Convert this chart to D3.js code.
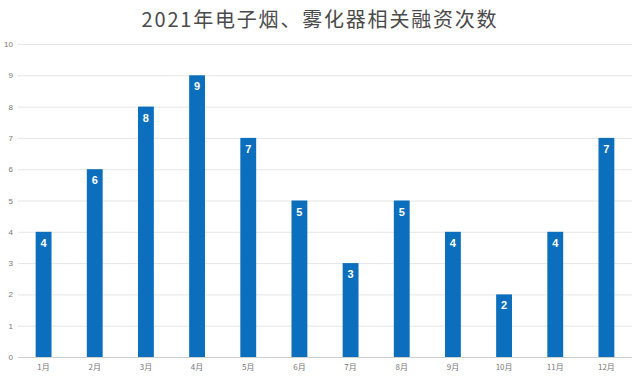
<!DOCTYPE html>
<html><head><meta charset="utf-8">
<script src="https://cdn.jsdelivr.net/npm/d3@7"></script>
<style>body{margin:0;background:#fff}svg{display:block}</style>
</head><body>
<svg id="c" width="640" height="378"></svg>
<script>
const title = "2021年电子烟、雾化器相关融资次数";
const months = ["1月","2月","3月","4月","5月","6月","7月","8月","9月","10月","11月","12月"];
const counts = [4,6,8,9,7,5,3,5,4,2,4,7];
const yTicks = [0,1,2,3,4,5,6,7,8,9,10];

const svg = d3.select("#c");
const font = "'Noto Sans CJK SC','Noto Sans',sans-serif";
const mLeft = 18, mRight = 632, mTop = 44, mBottom = 357;

const x = d3.scaleBand().domain(months).range([mLeft, mRight]).paddingInner(0.69).paddingOuter(0.345);
const y = d3.scaleLinear().domain([0,10]).range([mBottom, mTop]);

svg.append("text").attr("x", 320).attr("y", 27).attr("text-anchor","middle")
  .attr("font-family", font).attr("font-size", 20).attr("letter-spacing", 1.8)
  .attr("fill","#4a4a4a").text(title);

// grid
const g = svg.append("g").attr("transform", `translate(${mLeft},0)`);
const yAxis = d3.axisLeft(y).tickValues(yTicks).tickSize(-(mRight-mLeft)).tickFormat(d3.format("d")).tickPadding(6);
g.call(yAxis);
g.select(".domain").remove();
g.selectAll(".tick line").attr("stroke","#e6e6e6").attr("stroke-width",1);
g.selectAll(".tick text").attr("font-family", "'Liberation Sans',Arial,sans-serif").attr("font-size",8).attr("fill","#777").attr("x",-5);
g.selectAll(".tick").filter(d => d === 0).select("line").attr("stroke","#d0d0d0");

// bars
svg.append("g").selectAll("rect").data(counts).join("rect")
  .attr("x", (d,i) => x(months[i])).attr("width", x.bandwidth())
  .attr("y", d => y(d)).attr("height", d => y(0) - y(d))
  .attr("fill", "#0b6fbe");

svg.append("g").selectAll("text").data(counts).join("text")
  .attr("x", (d,i) => x(months[i]) + x.bandwidth()/2).attr("y", d => y(d) + 15)
  .attr("text-anchor","middle").attr("font-family","'Liberation Sans',Arial,sans-serif")
  .attr("font-weight","bold").attr("font-size",11).attr("fill","#fff").text(d => d);

// x axis
const xa = svg.append("g").attr("transform", `translate(0,${mBottom})`)
  .call(d3.axisBottom(x).tickSize(0).tickPadding(7));
xa.select(".domain").remove();
xa.selectAll(".tick text").attr("font-family", font).attr("font-size",8).attr("fill","#777");
</script>
</body></html>
